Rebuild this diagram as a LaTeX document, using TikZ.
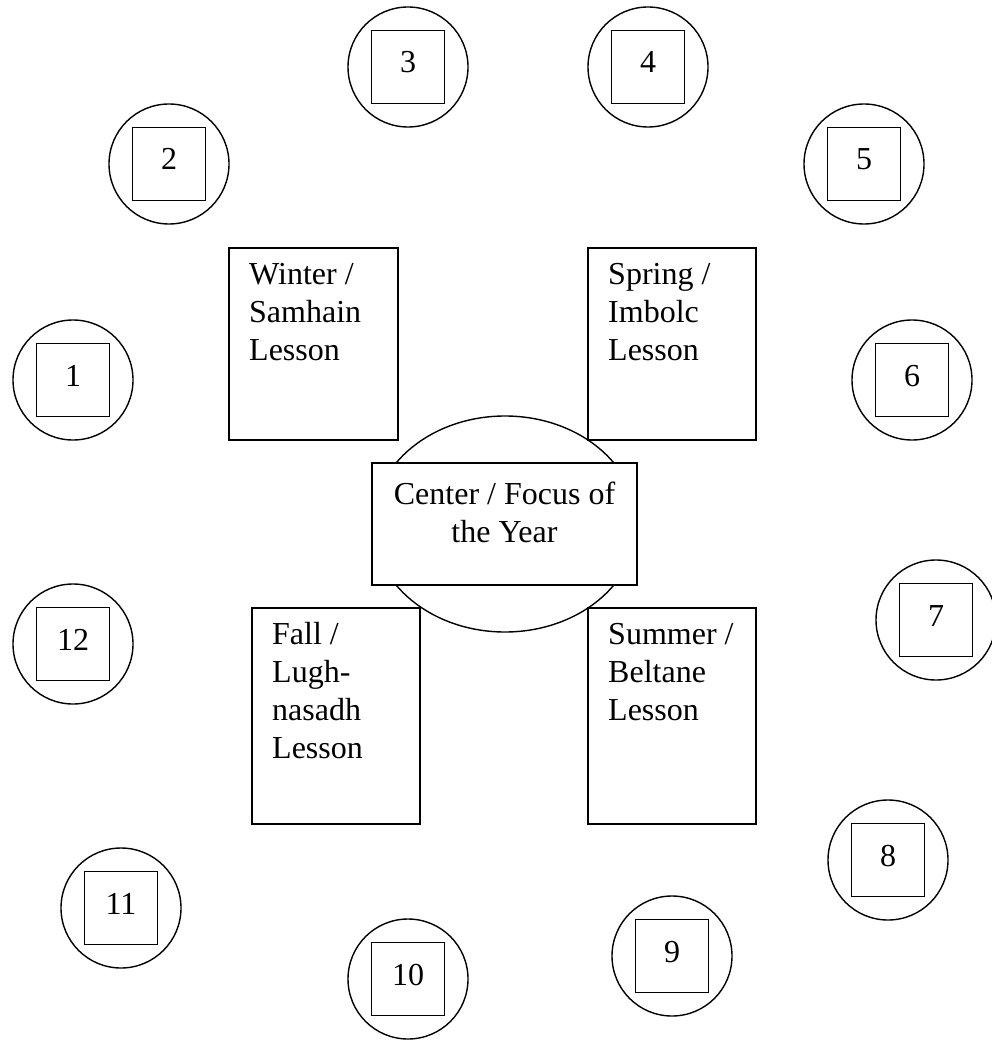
\documentclass[tikz,border=0pt]{standalone}
\usepackage{fontspec}
\setmainfont{Liberation Serif}
\usetikzlibrary{shapes.geometric}
\begin{document}
\begin{tikzpicture}[x=1pt,y=-1pt,
  every node/.style={font=\fontsize{32}{38}\selectfont},
  ring/.style={draw, circle, line width=1.4pt, minimum size=120pt, inner sep=0pt},
  numbox/.style={draw, rectangle, line width=1.4pt, fill=white, minimum size=73pt, inner sep=0pt, text height=22pt, text depth=10pt},
  lessonbox/.style={draw, rectangle, line width=1.4pt, fill=white, inner sep=0pt},
  lessontext/.style={anchor=north west, align=left, inner sep=0pt},
  centerbox/.style={draw, rectangle, line width=1.4pt, fill=white, inner sep=0pt, minimum width=265pt, minimum height=122pt},
  oval/.style={draw, ellipse, line width=1.4pt, inner sep=0pt, minimum width=264pt, minimum height=216pt}
]
\useasboundingbox (0,0) rectangle (991,1040);

% centre oval
\node[oval] (ell) at (505,524) {};

% lesson boxes
\node[lessonbox, minimum width=169pt, minimum height=192pt] (winter) at (313.5,344) {};
\node[lessonbox, minimum width=168pt, minimum height=192pt] (spring) at (672,344) {};
\node[lessonbox, minimum width=168pt, minimum height=216pt] (fall) at (336,716) {};
\node[lessonbox, minimum width=168pt, minimum height=216pt] (summer) at (672,716) {};
\node[lessontext] (wintert) at (249,257.4) {\strut Winter /\\Samhain\\Lesson};
\node[lessontext] (springt) at (608,257.4) {\strut Spring /\\Imbolc\\Lesson};
\node[lessontext] (fallt) at (272,617.4) {\strut Fall /\\Lugh-\\nasadh\\Lesson};
\node[lessontext] (summert) at (608,617.4) {\strut Summer /\\Beltane\\Lesson};

% centre box
\node[centerbox] (center) at (504.5,524) {};
\node[anchor=north, align=center, inner sep=0pt] (centert) at (504.5,477.4) {\strut Center / Focus of\\the Year};

% month circles
\foreach \n/\x/\y in {1/73/380, 2/169/164, 3/408/67, 4/648/67, 5/864/164, 6/912/380,
                      7/936/620, 8/888/860, 9/672/956, 10/408/979, 11/121/908, 12/73/644} {
  \node[ring] (c\n) at (\x,\y) {};
  \node[numbox] (s\n) at (c\n.center) {\n};
}
\end{tikzpicture}
\end{document}
